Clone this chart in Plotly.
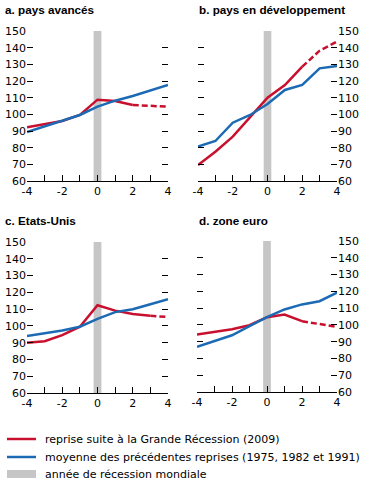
import plotly.graph_objects as go

years = [-4, -3, -2, -1, 0, 1, 2, 3, 4]
recession_year = [0]

titles = ["a. pays avancés", "b. pays en développement", "c. Etats-Unis", "d. zone euro"]

red_a = [92.2, 94.1, 96.0, 99.6, 108.8, 108.0, 105.6, 105.0, 104.6]
blue_a = [89.4, 92.7, 96.0, 99.6, 104.6, 108.2, 111.0, 114.2, 117.6]
red_b = [69.6, 77.6, 86.6, 98.6, 110.0, 117.6, 128.6, 138.2, 143.6]
blue_b = [80.6, 84.0, 95.0, 99.6, 106.2, 114.6, 117.6, 127.6, 129.0]
red_c = [89.9, 90.9, 94.5, 99.5, 112.3, 109.1, 107.1, 106.0, 105.3]
blue_c = [93.9, 95.6, 97.3, 99.5, 104.2, 108.2, 109.9, 112.9, 115.9]
red_d = [94.2, 95.8, 97.4, 99.8, 104.6, 106.2, 102.2, 100.6, 98.8]
blue_d = [86.9, 90.2, 93.8, 99.2, 104.6, 109.2, 112.2, 114.1, 119.3]
proj_start = [2, 2, 3, 2]  # red dashed from this year on

reds = [red_a, red_b, red_c, red_d]
blues = [blue_a, blue_b, blue_c, blue_d]

legend_labels = ["reprise suite à la Grande Récession (2009)",
                 "moyenne des précédentes reprises (1975, 1982 et 1991)",
                 "année de récession mondiale"]

RED = "#C8102E"
BLUE = "#1D6AB4"
GREY = "#C6C6C6"
W, H = 365, 483

# pixel boxes (x0, x1, ytop, ybottom)
boxes = [(27, 168, 31, 181), (198, 337, 31, 181), (27, 168, 242, 393), (197, 337, 241, 392)]
title_pos = [(3, 10), (197, 9), (3, 221), (197, 220)]

fig = go.Figure()
for i in range(4):
    xa = "x" if i == 0 else f"x{i+1}"
    ya = "y" if i == 0 else f"y{i+1}"
    fig.add_trace(go.Bar(x=recession_year, y=[90], base=60, width=0.44,
                         marker=dict(color=GREY, line=dict(width=0)),
                         xaxis=xa, yaxis=ya, showlegend=False))
    ps = years.index(proj_start[i])
    fig.add_trace(go.Scatter(x=years[:ps + 1], y=reds[i][:ps + 1], mode="lines",
                             line=dict(color=RED, width=2.5), xaxis=xa, yaxis=ya, showlegend=False))
    fig.add_trace(go.Scatter(x=years[ps:], y=reds[i][ps:], mode="lines",
                             line=dict(color=RED, width=2.5, dash="6px,3px"), xaxis=xa, yaxis=ya,
                             showlegend=False))
    fig.add_trace(go.Scatter(x=years, y=blues[i], mode="lines",
                             line=dict(color=BLUE, width=2.5), xaxis=xa, yaxis=ya, showlegend=False))

layout = dict(width=W, height=H, margin=dict(l=0, r=0, t=0, b=0, autoexpand=False),
              paper_bgcolor="white", plot_bgcolor="white", showlegend=False,
              font=dict(family="DejaVu Sans", size=11, color="black"))
for i, (x0, x1, yt, yb) in enumerate(boxes):
    xk = "xaxis" if i == 0 else f"xaxis{i+1}"
    yk = "yaxis" if i == 0 else f"yaxis{i+1}"
    ya = "y" if i == 0 else f"y{i+1}"
    xa = "x" if i == 0 else f"x{i+1}"
    layout[xk] = dict(domain=[x0 / W, x1 / W], range=[-4, 4], anchor=ya, automargin=False,
                      tickvals=years, ticktext=[str(v) if v % 2 == 0 else "" for v in years],
                      ticks="inside", ticklen=6, tickcolor="black", showline=True,
                      linecolor="black", linewidth=1, showgrid=False, zeroline=False,
                      tickfont=dict(size=11))
    layout[yk] = dict(domain=[1 - yb / H, 1 - yt / H], range=[60, 150], anchor=xa, automargin=False,
                      dtick=10, tick0=60, ticks="inside", ticklen=6, tickcolor="black",
                      mirror="ticks", showline=False, showgrid=False, zeroline=False,
                      side="left" if i % 2 == 0 else "right", tickfont=dict(size=11))

annotations = []
for i, (tx, ty) in enumerate(title_pos):
    annotations.append(dict(text="<b>" + titles[i] + "</b>", x=tx / W, y=1 - ty / H,
                            xref="paper", yref="paper", xanchor="left", yanchor="middle",
                            showarrow=False, font=dict(family="Liberation Sans", size=11.7)))
shapes = []
leg_y = [439, 457, 474]
leg_col = [RED, BLUE, GREY]
for k in range(3):
    annotations.append(dict(text=legend_labels[k], x=43 / W, y=1 - leg_y[k] / H,
                            xref="paper", yref="paper", xanchor="left", yanchor="middle",
                            showarrow=False, font=dict(family="DejaVu Sans", size=11)))
    if k < 2:
        shapes.append(dict(type="line", x0=7 / W, x1=36 / W, y0=1 - leg_y[k] / H, y1=1 - leg_y[k] / H,
                           xref="paper", yref="paper", line=dict(color=leg_col[k], width=2.5)))
    else:
        shapes.append(dict(type="rect", x0=7 / W, x1=36 / W, y0=1 - (leg_y[k] + 4) / H,
                           y1=1 - (leg_y[k] - 4) / H, xref="paper", yref="paper",
                           fillcolor=GREY, line=dict(width=0)))
layout["annotations"] = annotations
layout["shapes"] = shapes
fig.update_layout(**layout)
fig.write_html("out.html", config={"displayModeBar": False},
               post_script="document.body.style.margin='0';document.body.style.overflow='hidden';")
